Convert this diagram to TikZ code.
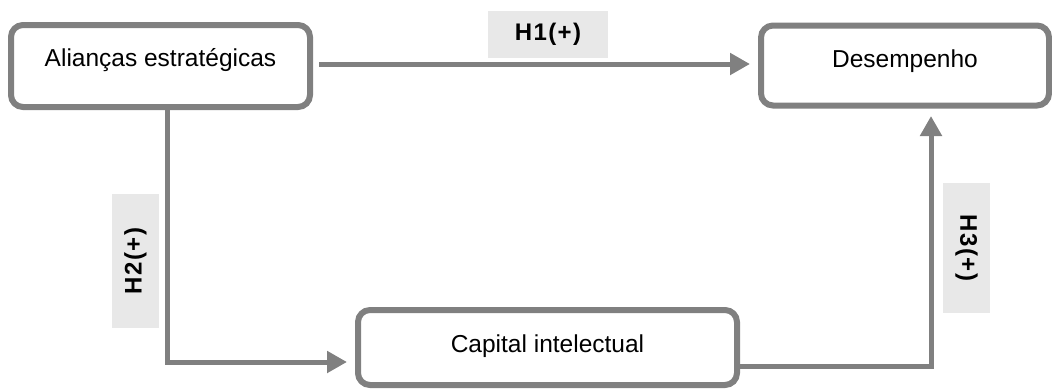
\documentclass[tikz,border=0pt]{standalone}
\usepackage{fontspec}
\setmainfont{Liberation Sans}
\usetikzlibrary{arrows.meta}
\definecolor{edgegray}{RGB}{128,128,128}
\definecolor{tagfill}{RGB}{232,232,232}
\tikzset{
  concept/.style={draw=edgegray, line width=6pt, rounded corners=12pt, fill=white,
    inner xsep=0pt, inner ysep=0pt, font=\fontsize{24.5}{28}\selectfont},
  hyptag/.style={fill=tagfill, inner sep=0pt,
    font=\bfseries\fontsize{24}{28}\selectfont\addfontfeature{LetterSpace=6}},
  link/.style={draw=edgegray, line width=5pt,
    -{Triangle[length=20pt,width=21pt]}, color=edgegray},
}
\begin{document}
\begin{tikzpicture}[x=1pt,y=-1pt]
\useasboundingbox (0,0) rectangle (1052,389);

% constructs
\node[concept, minimum width=299pt, text height=41pt, text depth=41pt] (al) at (160.5,66) {Alianças estratégicas};
\node[concept, minimum width=288pt, text height=41.5pt, text depth=38.5pt] (de) at (905,65.5) {Desempenho};
\node[concept, minimum width=379pt, text height=42pt, text depth=33pt] (ci) at (547.5,347.5) {Capital intelectual};

% hypothesis tags
\node[hyptag, minimum width=120pt, minimum height=47pt] (h1) at (548,34.5) {H1(+)};
\node[hyptag, minimum width=134pt, minimum height=47pt, rotate=90] (h2) at (135.5,261) {H2(+)};
\node[hyptag, minimum width=130pt, minimum height=47pt, rotate=-90] (h3) at (966.5,248) {H3(+)};

% hypothesised paths
\draw[link] ([xshift=6pt,yshift=2pt]al.east) -- ([xshift=-8pt,yshift=1.5pt]de.west);
\draw[link] ([xshift=7pt]al.south) |- ([xshift=-8pt,yshift=-14.5pt]ci.west);
\draw[link] ([yshift=-18.5pt]ci.east) -| ([xshift=26pt,yshift=-7.5pt]de.south);
\end{tikzpicture}
\end{document}
